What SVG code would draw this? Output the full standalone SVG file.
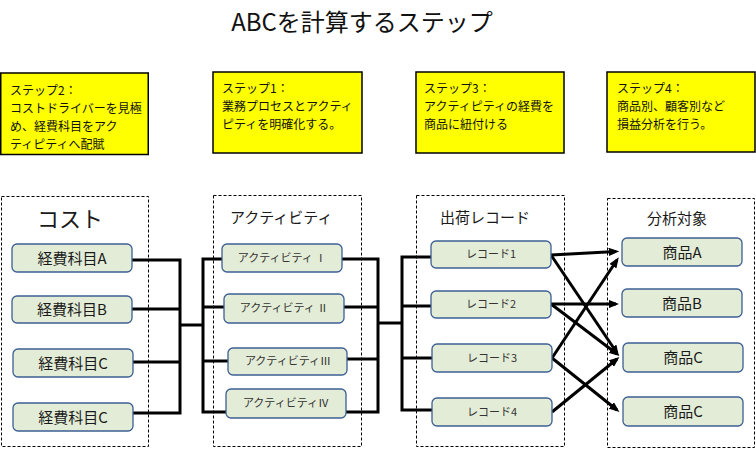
<svg xmlns="http://www.w3.org/2000/svg" width="756" height="449" viewBox="0 0 756 449">
<defs>
<style>
text{font-family:"Noto Sans CJK JP","Noto Sans",sans-serif;fill:#1a1a1a}
.title{font-size:24px;fill:#111;text-anchor:middle}
.note{fill:#ffff00;stroke:#000;stroke-width:1.5}
.nt{font-size:12px;fill:#111}
.grp{fill:none;stroke:#000;stroke-width:1;stroke-dasharray:3 2}
.gt{font-size:15px}
.node{fill:#e3ecd6;stroke:#3c5f94;stroke-width:1.3}
.lbl{font-size:15px;text-anchor:middle}
.sl{font-size:11px;text-anchor:middle;fill:#333}
.c{fill:none;stroke:#000;stroke-width:3}
.a{fill:none;stroke:#000;stroke-width:3;marker-end:url(#ah)}
</style>
<marker id="ah" viewBox="0 0 10 8" refX="7" refY="4" markerWidth="3.5" markerHeight="2.8" orient="auto">
<path d="M0,0 L10,4 L0,8 z" fill="#000"/>
</marker>
</defs>
<rect width="756" height="449" fill="#fff"/>
<text class="title" x="362" y="31">ABCを計算するステップ</text>

<g id="note-step2">
<rect class="note" x="0.75" y="73" width="147.5" height="81.5"/>
<text class="nt" x="10" y="95">ステップ2：</text>
<text class="nt" x="10" y="113">コストドライバーを見極</text>
<text class="nt" x="10" y="131">め、経費科目をアク</text>
<text class="nt" x="10" y="149">ティピティへ配賦</text>
</g>
<g id="note-step1">
<rect class="note" x="213" y="72" width="149" height="81"/>
<text class="nt" x="222" y="93">ステップ1：</text>
<text class="nt" x="222" y="111">業務プロセスとアクティ</text>
<text class="nt" x="222" y="129">ピティを明確化する。</text>
</g>
<g id="note-step3">
<rect class="note" x="416" y="72" width="148" height="81"/>
<text class="nt" x="424" y="93">ステップ3：</text>
<text class="nt" x="424" y="111">アクティピティの経費を</text>
<text class="nt" x="424" y="129">商品に紐付ける</text>
</g>
<g id="note-step4">
<rect class="note" x="607" y="72" width="148" height="80"/>
<text class="nt" x="617" y="93">ステップ4：</text>
<text class="nt" x="617" y="111">商品別、顧客別など</text>
<text class="nt" x="617" y="129">損益分析を行う。</text>
</g>

<g id="group-cost">
<rect class="grp" x="1.5" y="196.5" width="147" height="250"/>
<text x="37" y="227" style="font-size:22px">コスト</text>
</g>
<g id="group-activity">
<rect class="grp" x="213.5" y="195.5" width="148" height="251"/>
<text class="gt" x="230" y="223">アクティビティ</text>
</g>
<g id="group-shipping">
<rect class="grp" x="416.5" y="195.5" width="148" height="251"/>
<text class="gt" x="440" y="223">出荷レコード</text>
</g>
<g id="group-analysis">
<rect class="grp" x="607.5" y="198.5" width="147" height="249"/>
<text class="gt" x="647" y="224">分析対象</text>
</g>

<g id="connectors">
<polyline class="c" points="132,260 180,260 180,413 132,413"/>
<line class="c" x1="132" y1="309" x2="180" y2="309"/>
<line class="c" x1="133" y1="362" x2="180" y2="362"/>
<line class="c" x1="180" y1="325" x2="203" y2="325"/>
<polyline class="c" points="222,259 203,259 203,412 226,412"/>
<line class="c" x1="203" y1="307" x2="224" y2="307"/>
<line class="c" x1="203" y1="361" x2="228" y2="361"/>
<polyline class="c" points="342,259 378,259 378,412 346,412"/>
<line class="c" x1="344" y1="307" x2="378" y2="307"/>
<line class="c" x1="347" y1="359" x2="378" y2="359"/>
<line class="c" x1="378" y1="323" x2="402" y2="323"/>
<polyline class="c" points="431,257 402,257 402,410 432,410"/>
<line class="c" x1="402" y1="306" x2="431" y2="306"/>
<line class="c" x1="402" y1="358" x2="432" y2="358"/>
<line class="a" x1="551" y1="255" x2="616" y2="251.5"/>
<line class="a" x1="551" y1="255" x2="617" y2="353"/>
<line class="a" x1="551" y1="304" x2="616" y2="304"/>
<line class="a" x1="551" y1="304" x2="617" y2="354"/>
<line class="a" x1="552" y1="358" x2="617" y2="260"/>
<line class="a" x1="552" y1="358" x2="617" y2="410"/>
<line class="a" x1="552" y1="412" x2="617" y2="359"/>
</g>

<g id="cost-a"><rect class="node" x="12" y="244" width="120" height="28" rx="5"/><text class="lbl" x="72" y="264">経費科目A</text></g>
<g id="cost-b"><rect class="node" x="12" y="296" width="120" height="27" rx="5"/><text class="lbl" x="72" y="315">経費科目B</text></g>
<g id="cost-c1"><rect class="node" x="13" y="349" width="120" height="28" rx="5"/><text class="lbl" x="73" y="369">経費科目C</text></g>
<g id="cost-c2"><rect class="node" x="13" y="403" width="120" height="28" rx="5"/><text class="lbl" x="73" y="423">経費科目C</text></g>

<g id="act-1"><rect class="node" x="222" y="244" width="120" height="28" rx="5"/><text class="sl" x="282" y="262">アクティビティ Ⅰ</text></g>
<g id="act-2"><rect class="node" x="224" y="294" width="120" height="29" rx="5"/><text class="sl" x="284" y="312">アクティビティ Ⅱ</text></g>
<g id="act-3"><rect class="node" x="228" y="348" width="119" height="27" rx="5"/><text class="sl" x="288" y="365">アクティビティⅢ</text></g>
<g id="act-4"><rect class="node" x="226" y="389" width="120" height="29" rx="5"/><text class="sl" x="286" y="407">アクティビティⅣ</text></g>

<g id="rec-1"><rect class="node" x="431" y="241" width="120" height="27" rx="5"/><text class="sl" x="491" y="258">レコード1</text></g>
<g id="rec-2"><rect class="node" x="431" y="291" width="120" height="27" rx="5"/><text class="sl" x="491" y="308">レコード2</text></g>
<g id="rec-3"><rect class="node" x="432" y="344" width="120" height="28" rx="5"/><text class="sl" x="492" y="362">レコード3</text></g>
<g id="rec-4"><rect class="node" x="432" y="398" width="120" height="28" rx="5"/><text class="sl" x="492" y="416">レコード4</text></g>

<g id="prod-a"><rect class="node" x="622" y="238" width="120" height="28" rx="5"/><text class="lbl" x="682" y="258">商品A</text></g>
<g id="prod-b"><rect class="node" x="622" y="289" width="120" height="28" rx="5"/><text class="lbl" x="682" y="309">商品B</text></g>
<g id="prod-c1"><rect class="node" x="623" y="343" width="120" height="29" rx="5"/><text class="lbl" x="683" y="363">商品C</text></g>
<g id="prod-c2"><rect class="node" x="623" y="397" width="120" height="29" rx="5"/><text class="lbl" x="683" y="417">商品C</text></g>
</svg>
